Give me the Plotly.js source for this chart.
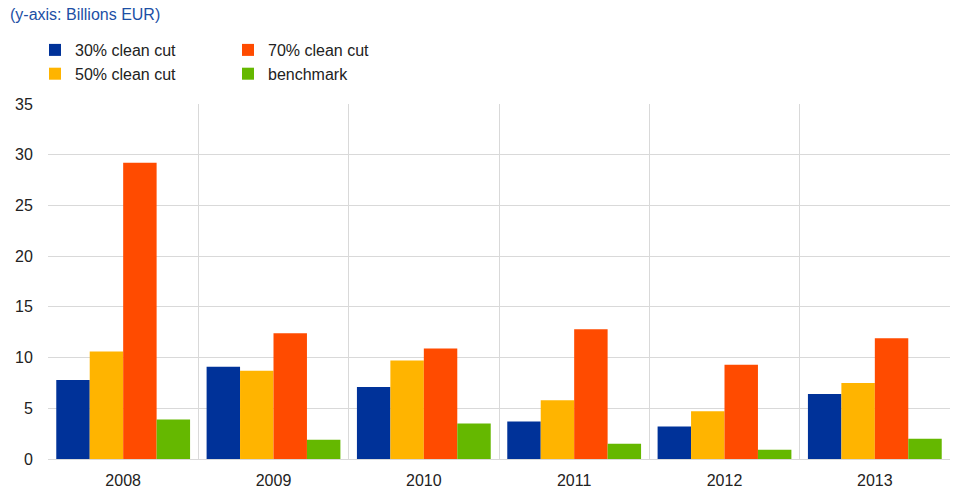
<!DOCTYPE html>
<html>
<head>
<meta charset="utf-8">
<script src="https://cdn.plot.ly/plotly-3.0.1.min.js"></script>
<style>html,body{margin:0;padding:0;background:#fff}#chart{width:968px;height:500px}</style>
</head>
<body>
<div id="chart"></div>
<script>
const years = [2008, 2009, 2010, 2011, 2012, 2013];
const cut30 = [7.8, 9.1, 7.1, 3.7, 3.2, 6.4];
const cut50 = [10.6, 8.7, 9.7, 5.8, 4.7, 7.5];
const cut70 = [29.2, 12.4, 10.9, 12.8, 9.3, 11.9];
const benchmark = [3.9, 1.9, 3.5, 1.5, 0.9, 2.0];
const names = ['30% clean cut', '50% clean cut', '70% clean cut', 'benchmark'];
const colors = ['#003299', '#ffb400', '#ff4b00', '#65b800'];
const legends = ['legend', 'legend', 'legend2', 'legend2'];
const series = [cut30, cut50, cut70, benchmark];

const traces = series.map((vals, i) => ({
  type: 'bar',
  x: years,
  y: vals,
  name: names[i],
  legend: legends[i],
  marker: {color: colors[i], line: {width: 0}},
  hoverinfo: 'x+y+name'
}));

const FONT = 'Liberation Sans, Arial, sans-serif';
const legendFont = {family: FONT, size: 16, color: '#222'};
const layout = {
  width: 968, height: 500,
  margin: {l: 48, r: 18, t: 104, b: 41, autoexpand: false},
  paper_bgcolor: '#fff', plot_bgcolor: '#fff',
  font: {family: FONT, size: 16, color: '#222'},
  title: {text: '(y-axis: Billions EUR)', x: 10/968, xref: 'container', xanchor: 'left',
          y: 1 - 9/500, yref: 'container', yanchor: 'top',
          font: {family: FONT, size: 16, color: '#1c4fa5'}},
  barmode: 'group',
  bargap: 0.11,
  bargroupgap: 0,
  xaxis: {
    type: 'linear', range: [2007.5, 2013.5],
    tickmode: 'array', tickvals: years, ticktext: years.map(String),
    showgrid: false, zeroline: false, ticks: '',
    showline: true, linecolor: '#d9d9d9', linewidth: 1,
    ticklabelstandoff: 7,
    minor: {tickmode: 'linear', tick0: 2007.5, dtick: 1, showgrid: true, gridcolor: '#d9d9d9', gridwidth: 1, ticks: ''},
    tickfont: {family: FONT, size: 16, color: '#222'}
  },
  yaxis: {
    range: [0, 35], dtick: 5, tick0: 0,
    showgrid: true, gridcolor: '#d9d9d9', gridwidth: 1,
    zeroline: false, showline: false,
    ticks: 'outside', ticklen: 11, tickcolor: 'rgba(0,0,0,0)',
    tickfont: {family: FONT, size: 16, color: '#222'}
  },
  showlegend: true,
  legend: {x: 35/968, xref: 'container', xanchor: 'left', y: 1 - 33/500, yref: 'container', yanchor: 'top',
           orientation: 'v', font: legendFont, bgcolor: 'rgba(0,0,0,0)', tracegroupgap: 0},
  legend2: {x: 228/968, xref: 'container', xanchor: 'left', y: 1 - 33/500, yref: 'container', yanchor: 'top',
            orientation: 'v', font: legendFont, bgcolor: 'rgba(0,0,0,0)', tracegroupgap: 0}
};

Plotly.newPlot('chart', traces, layout, {displayModeBar: false, staticPlot: true});
</script>
</body>
</html>
